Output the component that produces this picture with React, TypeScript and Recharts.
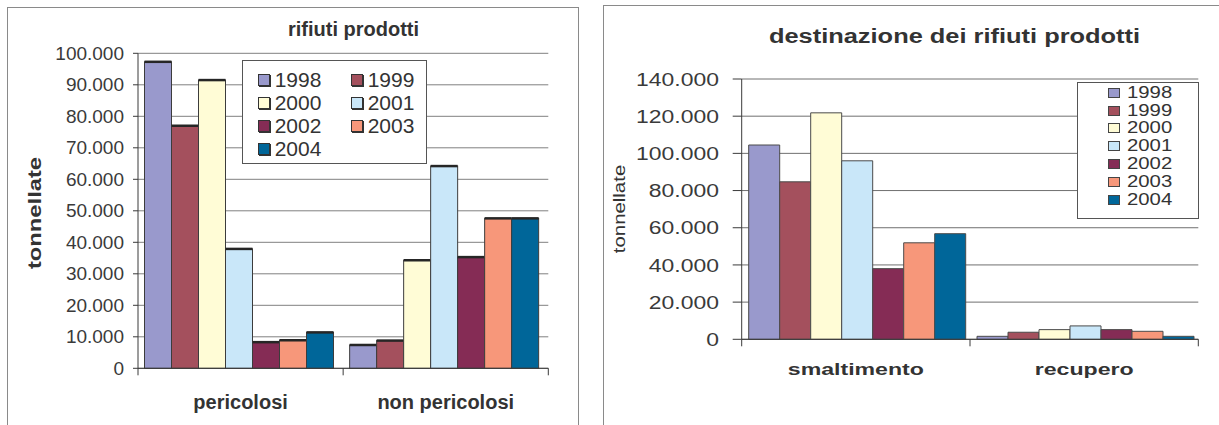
import React from 'react';
import { BarChart, Bar, XAxis, YAxis, CartesianGrid, Legend, Label } from 'recharts';

const FONT = '"Liberation Sans", Arial, sans-serif';

const YEARS = ['1998', '1999', '2000', '2001', '2002', '2003', '2004'];
const COLORS = ['#9999CC', '#A4505D', '#FFFCD6', '#C9E7F9', '#852C55', '#F7977A', '#006699'];

// rifiuti prodotti (tonnellate), one value per year
const PROD_CATEGORIES = ['pericolosi', 'non pericolosi'];
const PROD_PERICOLOSI = [97300, 77000, 91500, 37900, 8300, 8900, 11400];
const PROD_NON_PERICOLOSI = [7400, 8800, 34300, 64200, 35300, 47600, 47600];
const PROD_TICKS = [0, 10000, 20000, 30000, 40000, 50000, 60000, 70000, 80000, 90000, 100000];

// destinazione dei rifiuti prodotti (tonnellate)
const DEST_CATEGORIES = ['smaltimento', 'recupero'];
const DEST_SMALTIMENTO = [104500, 84700, 121800, 96000, 38000, 51900, 56800];
const DEST_RECUPERO = [1600, 3800, 5200, 7200, 5200, 4300, 1600];
const DEST_TICKS = [0, 20000, 40000, 60000, 80000, 100000, 120000, 140000];

const buildRows = (cats: string[], series: number[][]) =>
  cats.map((c, i) => {
    const row: any = { name: c };
    YEARS.forEach((y, j) => {
      row[y] = series[i][j];
    });
    return row;
  });

const prodRows = buildRows(PROD_CATEGORIES, [PROD_PERICOLOSI, PROD_NON_PERICOLOSI]);
const destRows = buildRows(DEST_CATEGORIES, [DEST_SMALTIMENTO, DEST_RECUPERO]);

const fmt = (v: number) => String(v).replace(/\B(?=(\d{3})+(?!\d))/g, '.');

const H = 425;

// left chart layout
const LW = 590;
const L_MARGIN = { top: 53.3, right: 41.7, bottom: 16.7, left: 0 };
const L_YW = 138;
const L_XH = 40;
const L_AXIS_Y = H - L_MARGIN.bottom - L_XH;
const L_BAND = (LW - L_MARGIN.left - L_YW - L_MARGIN.right) / PROD_CATEGORIES.length;

// right chart layout
const RW = 629;
const R_MARGIN = { top: 79, right: 20.7, bottom: 45.7, left: 0 };
const R_YW = 151.7;
const R_XH = 40;
const R_AXIS_Y = H - R_MARGIN.bottom - R_XH;
const R_BAND = (RW - R_MARGIN.left - R_YW - R_MARGIN.right) / DEST_CATEGORIES.length;

const TopEdgeBar = (p: any) => {
  const { x, y, width, height, fill } = p;
  if (!height) return null;
  return (
    <g>
      <rect x={x} y={y} width={width} height={height} fill={fill} stroke="#3c3c3c" strokeWidth={1} />
      <line x1={x} x2={x + width} y1={y} y2={y} stroke="#262626" strokeWidth={2.5} />
    </g>
  );
};

const makeYTick = (fontSize: number, sx: number) => (p: any) => (
  <g transform={`translate(${p.x},${p.y}) scale(${sx},1)`}>
    <text x={0} y={0} textAnchor="end" dominantBaseline="central" fontFamily={FONT} fontSize={fontSize} fill="#3a3a3a">
      {fmt(p.payload.value)}
    </text>
  </g>
);

const makeXTick = (axisY: number, band: number, count: number, labelY: number, fontSize: number, sx: number) => (p: any) => {
  const left = p.x - band / 2;
  const right = p.x + band / 2;
  return (
    <g>
      <line x1={left} x2={left} y1={axisY} y2={axisY + 7} stroke="#3a3a3a" />
      {p.index === count - 1 && <line x1={right} x2={right} y1={axisY} y2={axisY + 7} stroke="#3a3a3a" />}
      <g transform={`translate(${p.x},${labelY}) scale(${sx},1)`}>
        <text x={0} y={0} textAnchor="middle" fontFamily={FONT} fontWeight="bold" fontSize={fontSize} fill="#333">
          {p.payload.value}
        </text>
      </g>
    </g>
  );
};

const ProdLegend = (props: any) => {
  const items = props.payload || [];
  return (
    <div
      style={{
        boxSizing: 'border-box',
        width: 185,
        height: 104,
        border: '1px solid #555',
        background: '#fff',
        padding: '7px 0 0 15px',
        display: 'grid',
        gridTemplateColumns: '93px 76px',
        gridAutoRows: '23px',
        fontFamily: FONT,
        fontSize: 21,
        color: '#333',
      }}
    >
      {items.map((it: any, i: number) => (
        <div key={it.value} style={{ display: 'flex', alignItems: 'center', height: 23 }}>
          <span
            style={{
              display: 'inline-block',
              boxSizing: 'border-box',
              width: 12,
              height: 12,
              border: '1px solid #333',
              boxShadow: '1px 1px 0 #333',
              background: it.color || COLORS[i],
              marginRight: 5,
            }}
          />
          <span style={{ lineHeight: '23px' }}>{it.value}</span>
        </div>
      ))}
    </div>
  );
};

const DestLegend = (props: any) => {
  const items = props.payload || [];
  return (
    <div
      style={{
        boxSizing: 'border-box',
        width: 122,
        height: 137,
        border: '1px solid #555',
        background: '#fff',
        padding: '1px 0 0 30px',
        fontFamily: FONT,
        fontSize: 16,
        color: '#333',
      }}
    >
      {items.map((it: any, i: number) => (
        <div key={it.value} style={{ display: 'flex', alignItems: 'center', height: 17.9 }}>
          <span
            style={{
              display: 'inline-block',
              boxSizing: 'border-box',
              width: 12,
              height: 10,
              border: '1px solid #444',
              background: it.color || COLORS[i],
              marginRight: 7.5,
            }}
          />
          <span style={{ display: 'inline-block', lineHeight: '18px', transform: 'scaleX(1.27)', transformOrigin: 'left center' }}>
            {it.value}
          </span>
        </div>
      ))}
    </div>
  );
};

const ProdChart = () => (
  <BarChart width={LW} height={H} data={prodRows} margin={L_MARGIN} barCategoryGap={6.5} barGap={0}>
    <CartesianGrid vertical={false} stroke="#808080" />
    <XAxis
      dataKey="name"
      height={L_XH}
      axisLine={{ stroke: '#3a3a3a' }}
      tickLine={false}
      interval={0}
      tick={makeXTick(L_AXIS_Y, L_BAND, PROD_CATEGORIES.length, 409, 20, 1)}
    />
    <YAxis
      width={L_YW}
      domain={[0, 100000]}
      ticks={PROD_TICKS}
      interval={0}
      axisLine={{ stroke: '#3a3a3a' }}
      tickLine={{ stroke: '#3a3a3a' }}
      tickSize={5}
      tickMargin={9}
      tick={makeYTick(19, 1)}
    >
      <Label
        content={() => (
          <text
            transform="translate(35,213) rotate(-90) scale(1.25,1)"
            textAnchor="middle"
            dominantBaseline="central"
            fontFamily={FONT}
            fontWeight="bold"
            fontSize={19}
            fill="#333"
          >
            tonnellate
          </text>
        )}
      />
    </YAxis>
    <YAxis yAxisId="frame" orientation="right" type="number" domain={[0, 100000]} width={0} tick={false} tickLine={false} axisLine={{ stroke: '#808080' }} />
    <Legend
      layout="vertical"
      align="center"
      verticalAlign="middle"
      content={ProdLegend}
      wrapperStyle={{ position: 'absolute', left: 241.7, top: 60, width: 185, height: 104 }}
    />
    {YEARS.map((y, i) => (
      <Bar key={y} dataKey={y} name={y} fill={COLORS[i]} shape={TopEdgeBar} isAnimationActive={false} />
    ))}
  </BarChart>
);

const DestChart = () => (
  <BarChart width={RW} height={H} data={destRows} margin={R_MARGIN} barCategoryGap={7} barGap={0}>
    <CartesianGrid vertical={false} stroke="#707070" />
    <XAxis
      dataKey="name"
      height={R_XH}
      axisLine={{ stroke: '#3a3a3a' }}
      tickLine={false}
      interval={0}
      tick={makeXTick(R_AXIS_Y, R_BAND, DEST_CATEGORIES.length, 375, 17, 1.36)}
    />
    <YAxis
      width={R_YW}
      domain={[0, 140000]}
      ticks={DEST_TICKS}
      interval={0}
      axisLine={{ stroke: '#3a3a3a' }}
      tickLine={{ stroke: '#3a3a3a' }}
      tickSize={9}
      tickMargin={13.7}
      tick={makeYTick(18.5, 1.24)}
    >
      <Label
        content={() => (
          <text
            transform="translate(29,209) rotate(-90) scale(1.2,1)"
            textAnchor="middle"
            dominantBaseline="central"
            fontFamily={FONT}
            fontSize={17}
            fill="#333"
          >
            tonnellate
          </text>
        )}
      />
    </YAxis>
    <YAxis yAxisId="frame" orientation="right" type="number" domain={[0, 140000]} width={0} tick={false} tickLine={false} axisLine={{ stroke: '#3a3a3a' }} />
    <Legend
      layout="vertical"
      align="center"
      verticalAlign="middle"
      content={DestLegend}
      wrapperStyle={{ position: 'absolute', left: 486.7, top: 81.7, width: 122, height: 137 }}
    />
    {YEARS.map((y, i) => (
      <Bar key={y} dataKey={y} name={y} fill={COLORS[i]} stroke="#4a4a4a" strokeWidth={1} isAnimationActive={false} />
    ))}
  </BarChart>
);

export default function App() {
  return (
    <div style={{ position: 'absolute', left: 0, top: 0, width: 1219, height: H, overflow: 'hidden', background: '#fff' }}>
      <div style={{ position: 'absolute', left: 7, top: 7, width: 570, height: 440, border: '1px solid #8a8a8a' }} />
      <div style={{ position: 'absolute', left: 603, top: 5, width: 640, height: 440, border: '1px solid #8a8a8a' }} />
      <div style={{ position: 'absolute', left: 0, top: 0 }}>
        <ProdChart />
      </div>
      <div style={{ position: 'absolute', left: 590, top: 0 }}>
        <DestChart />
      </div>
      <svg width={1219} height={H} style={{ position: 'absolute', left: 0, top: 0, pointerEvents: 'none' }}>
        <text x={353.5} y={36} textAnchor="middle" fontFamily={FONT} fontWeight="bold" fontSize={20} fill="#333">
          rifiuti prodotti
        </text>
        <g transform="translate(954.5,42.7) scale(1.27,1)">
          <text x={0} y={0} textAnchor="middle" fontFamily={FONT} fontWeight="bold" fontSize={20} fill="#333">
            destinazione dei rifiuti prodotti
          </text>
        </g>
      </svg>
    </div>
  );
}
